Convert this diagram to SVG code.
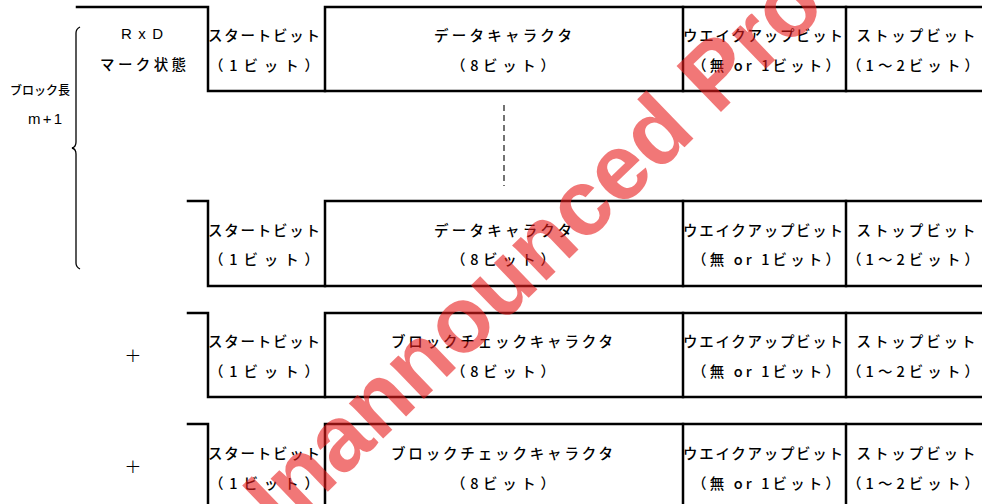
<svg xmlns="http://www.w3.org/2000/svg" width="982" height="504" viewBox="0 0 982 504">
<style>
.ln{fill:none;stroke:#000;stroke-width:2.5;stroke-linejoin:miter;stroke-linecap:square}
.br{fill:none;stroke:#000;stroke-width:1.3}
.dash{fill:none;stroke:#000;stroke-width:1.1;stroke-dasharray:6 4}
.t{font-family:"Noto Sans CJK JP","Noto Sans",sans-serif;font-size:14.5px;font-weight:500;fill:#000;text-anchor:middle;dominant-baseline:central}
.s{font-family:"Noto Sans CJK JP","Noto Sans",sans-serif;font-size:12px;font-weight:500;fill:#000;text-anchor:middle;dominant-baseline:central}
.l{font-family:"Liberation Sans",Arial,sans-serif;font-size:15px;fill:#000;text-anchor:middle;dominant-baseline:central}
.p{font-family:"DejaVu Sans",sans-serif;font-size:20px;font-weight:200;fill:#000;text-anchor:middle;dominant-baseline:central}
.wm{font-family:"Liberation Sans",Arial,sans-serif;font-size:93px;font-weight:bold;fill:#e81c1c;fill-opacity:0.6}
</style>

<g id="block-length-label">
<path class="br" d="M80,27 Q76,29 76,33 L76,142 Q76,147 72,148 Q76,149 76,154 L76,263 Q76,267 80,269"/>
<text class="s" x="40" y="89" textLength="60" lengthAdjust="spacing">ブロック長</text>
<text class="l" x="45" y="118" textLength="34" lengthAdjust="spacing">m+1</text>
</g>

<g id="rxd-label">
<text class="l" x="142" y="33" textLength="42" lengthAdjust="spacing">RxD</text>
<text class="t" x="143" y="63" textLength="86" lengthAdjust="spacing">マーク状態</text>
</g>

<g id="frame-1">
<path class="ln" d="M77,7 H208 V91 H982"/>
<path class="ln" d="M325,91 V7 H982"/>
<path class="ln" d="M683,7 V91 M846,7 V91"/>
<text class="t" x="264" y="34" textLength="112" lengthAdjust="spacing">スタートビット</text>
<text class="t" x="264" y="64" textLength="110" lengthAdjust="spacing">（1ビット）</text>
<text class="t" x="503" y="34" textLength="138" lengthAdjust="spacing">データキャラクタ</text>
<text class="t" x="503" y="64" textLength="104" lengthAdjust="spacing">（8ビット）</text>
<text class="t" x="763" y="34" textLength="160" lengthAdjust="spacing">ウエイクアップビット</text>
<text class="t" x="766" y="64" textLength="148" lengthAdjust="spacing">（無 or 1ビット）</text>
<text class="t" x="916" y="34" textLength="119" lengthAdjust="spacing">ストップビット</text>
<text class="t" x="913" y="64" textLength="132" lengthAdjust="spacing">（1～2ビット）</text>
</g>

<g id="frame-2">
<path class="ln" d="M188,201 H208 V286 H982"/>
<path class="ln" d="M325,286 V201 H982"/>
<path class="ln" d="M683,201 V286 M846,201 V286"/>
<text class="t" x="264" y="229" textLength="112" lengthAdjust="spacing">スタートビット</text>
<text class="t" x="264" y="258" textLength="110" lengthAdjust="spacing">（1ビット）</text>
<text class="t" x="503" y="229" textLength="138" lengthAdjust="spacing">データキャラクタ</text>
<text class="t" x="503" y="258" textLength="104" lengthAdjust="spacing">（8ビット）</text>
<text class="t" x="763" y="229" textLength="160" lengthAdjust="spacing">ウエイクアップビット</text>
<text class="t" x="766" y="258" textLength="148" lengthAdjust="spacing">（無 or 1ビット）</text>
<text class="t" x="916" y="229" textLength="119" lengthAdjust="spacing">ストップビット</text>
<text class="t" x="913" y="258" textLength="132" lengthAdjust="spacing">（1～2ビット）</text>
</g>

<g id="plus-1"><text class="p" x="133" y="355">+</text></g>

<g id="frame-3">
<path class="ln" d="M188,313 H208 V397 H982"/>
<path class="ln" d="M325,397 V313 H982"/>
<path class="ln" d="M683,313 V397 M846,313 V397"/>
<text class="t" x="264" y="340" textLength="112" lengthAdjust="spacing">スタートビット</text>
<text class="t" x="264" y="370" textLength="110" lengthAdjust="spacing">（1ビット）</text>
<text class="t" x="502" y="340" textLength="222" lengthAdjust="spacing">ブロックチェックキャラクタ</text>
<text class="t" x="503" y="370" textLength="104" lengthAdjust="spacing">（8ビット）</text>
<text class="t" x="763" y="340" textLength="160" lengthAdjust="spacing">ウエイクアップビット</text>
<text class="t" x="766" y="370" textLength="148" lengthAdjust="spacing">（無 or 1ビット）</text>
<text class="t" x="916" y="340" textLength="119" lengthAdjust="spacing">ストップビット</text>
<text class="t" x="913" y="370" textLength="132" lengthAdjust="spacing">（1～2ビット）</text>
</g>

<g id="plus-2"><text class="p" x="133" y="466">+</text></g>

<g id="frame-4">
<path class="ln" d="M188,424 H208 V506"/>
<path class="ln" d="M325,506 V424 H982"/>
<path class="ln" d="M683,424 V506 M846,424 V506"/>
<text class="t" x="264" y="452" textLength="112" lengthAdjust="spacing">スタートビット</text>
<text class="t" x="264" y="482" textLength="110" lengthAdjust="spacing">（1ビット）</text>
<text class="t" x="502" y="452" textLength="222" lengthAdjust="spacing">ブロックチェックキャラクタ</text>
<text class="t" x="503" y="482" textLength="104" lengthAdjust="spacing">（8ビット）</text>
<text class="t" x="763" y="452" textLength="160" lengthAdjust="spacing">ウエイクアップビット</text>
<text class="t" x="766" y="482" textLength="148" lengthAdjust="spacing">（無 or 1ビット）</text>
<text class="t" x="916" y="452" textLength="119" lengthAdjust="spacing">ストップビット</text>
<text class="t" x="913" y="482" textLength="132" lengthAdjust="spacing">（1～2ビット）</text>
</g>

<g id="connectors">
<path class="dash" d="M504,105 V186"/>
</g>

<g id="watermark">
<text class="wm" x="252" y="565" transform="rotate(-44 252 565)">Unannounced Product</text>
</g>
</svg>
